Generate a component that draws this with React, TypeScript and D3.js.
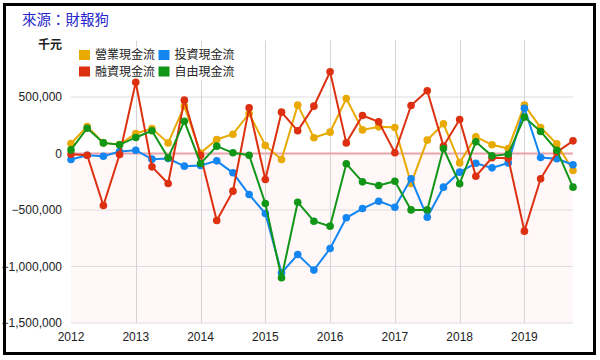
import React from "react";
import * as d3 from "d3";

const periods = [
  "2012Q1","2012Q2","2012Q3","2012Q4","2013Q1","2013Q2","2013Q3","2013Q4",
  "2014Q1","2014Q2","2014Q3","2014Q4","2015Q1","2015Q2","2015Q3","2015Q4",
  "2016Q1","2016Q2","2016Q3","2016Q4","2017Q1","2017Q2","2017Q3","2017Q4",
  "2018Q1","2018Q2","2018Q3","2018Q4","2019Q1","2019Q2","2019Q3","2019Q4",
];

const operating = [88000, 239000, 94000, 80000, 177000, 221000, 94000, 419000, 4000, 124000, 171000, 354000, 71000, -53000, 428000, 139000, 189000, 487000, 209000, 236000, 230000, -266000, 118000, 263000, -83000, 147000, 77000, 44000, 428000, 230000, 86000, -150000];
const investing = [-53000, -15000, -24000, 18000, 29000, -50000, -44000, -112000, -106000, -65000, -171000, -363000, -531000, -1056000, -894000, -1032000, -841000, -569000, -487000, -422000, -475000, -224000, -564000, -298000, -165000, -86000, -127000, -83000, 401000, -35000, -47000, -100000];
const financing = [-6000, -15000, -460000, -9000, 631000, -118000, -266000, 472000, -15000, -593000, -333000, 404000, -230000, 366000, 201000, 419000, 723000, 94000, 336000, 280000, 6000, 425000, 555000, 65000, 301000, -201000, -38000, -41000, -687000, -224000, 12000, 112000];
const freeCash = [32000, 224000, 94000, 77000, 142000, 201000, -38000, 286000, -88000, 65000, 6000, -15000, -442000, -1100000, -431000, -599000, -643000, -91000, -251000, -283000, -245000, -499000, -499000, 44000, -268000, 103000, -21000, -6000, 322000, 195000, 29000, -298000];

const seriesNames = ["營業現金流", "投資現金流", "融資現金流", "自由現金流"];
const seriesColors = ["#e8a900", "#1486f0", "#dc3010", "#129618"];
const seriesData = [operating, investing, financing, freeCash];

const yTicks = [500000, 0, -500000, -1000000, -1500000];
const xTicks = [2012, 2013, 2014, 2015, 2016, 2017, 2018, 2019];

const title = "來源：財報狗";
const unitLabel = "千元";

const toX = (p: string) => {
  const y = +p.slice(0, 4);
  const q = +p.slice(5);
  return y + (q - 1) / 4;
};

export default function App() {
  const W = 600, H = 360;
  const left = 71, right = 573, top = 40.5, bottom = 323;
  const x = d3.scaleLinear().domain([2012, 2019.75]).range([left, right]);
  const y = d3.scaleLinear().domain([-1500000, 1000000]).range([bottom, top]);
  const fmt = d3.format(",");
  const line = d3
    .line<number>()
    .x((_, i) => x(toX(periods[i])))
    .y((d) => y(d));
  const latin = "'Liberation Sans', Arial, sans-serif";
  const cjk = "'Liberation Sans', 'Noto Sans CJK TC', sans-serif";

  return (
    <svg
      width={W}
      height={H}
      style={{ position: "absolute", left: 0, top: 0, background: "#fff" }}
    >
      <rect x={0} y={0} width={W} height={H} fill="#fff" />
      {/* negative region shading */}
      <rect x={left} y={y(0)} width={right - left} height={bottom - y(0)} fill="#fff7f8" />
      {/* horizontal gridlines */}
      {yTicks.map((t) => (
        <line key={"h" + t} x1={left} x2={right} y1={y(t)} y2={y(t)} stroke="#dcdcdc" strokeWidth={1} />
      ))}
      {/* vertical gridlines */}
      {xTicks.filter((t) => t > 2012).map((t) => (
        <line key={"v" + t} x1={Math.round(x(t)) + 0.5} x2={Math.round(x(t)) + 0.5} y1={top} y2={bottom} stroke="#d4d4d4" strokeWidth={1} />
      ))}
      {/* zero line */}
      <line x1={left} x2={right} y1={y(0)} y2={y(0)} stroke="#e9a3ab" strokeWidth={2} />
      {/* y tick labels */}
      {yTicks.map((t) => (
        <text key={"yl" + t} x={62} y={y(t)} dy="0.35em" textAnchor="end" fontSize={12} fill="#222" fontFamily={latin}>
          {fmt(t)}
        </text>
      ))}
      {/* x tick labels */}
      {xTicks.map((t) => (
        <text key={"xl" + t} x={x(t)} y={341} textAnchor="middle" fontSize={12} fill="#222" fontFamily={latin}>
          {t}
        </text>
      ))}
      {/* legend background */}
      <rect x={76} y={47} width={160} height={33} fill="#fff" />
      {/* series */}
      {seriesData.map((data, si) => (
        <g key={"s" + si}>
          <path d={line(data) || ""} fill="none" stroke={seriesColors[si]} strokeWidth={2} />
          {data.map((v, i) => (
            <circle key={i} cx={x(toX(periods[i]))} cy={y(v)} r={3.8} fill={seriesColors[si]} />
          ))}
        </g>
      ))}
      {/* legend */}
      {seriesNames.map((n, i) => {
        const col = i % 2;
        const row = Math.floor(i / 2);
        const lx = 79 + col * 79.5;
        const ly = 50 + row * 16.5;
        return (
          <g key={"lg" + i}>
            <rect x={lx} y={ly} width={11} height={10} fill={seriesColors[i]} />
            <text x={lx + 16} y={ly + 5} dy="0.36em" fontSize={12} fill="#222" fontFamily={cjk}>
              {n}
            </text>
          </g>
        );
      })}
      {/* unit label */}
      <text x={62} y={45} dy="0.35em" textAnchor="end" fontSize={12} fontWeight="bold" fill="#222" fontFamily={cjk}>
        {unitLabel}
      </text>
      {/* title */}
      <text x={22} y={20} dy="0.35em" fontSize={14.5} fill="#2626cc" fontFamily={cjk}>
        {title}
      </text>
      {/* frame */}
      <rect x={4.5} y={4.5} width={590} height={349} fill="none" stroke="#000" strokeWidth={3} />
    </svg>
  );
}
